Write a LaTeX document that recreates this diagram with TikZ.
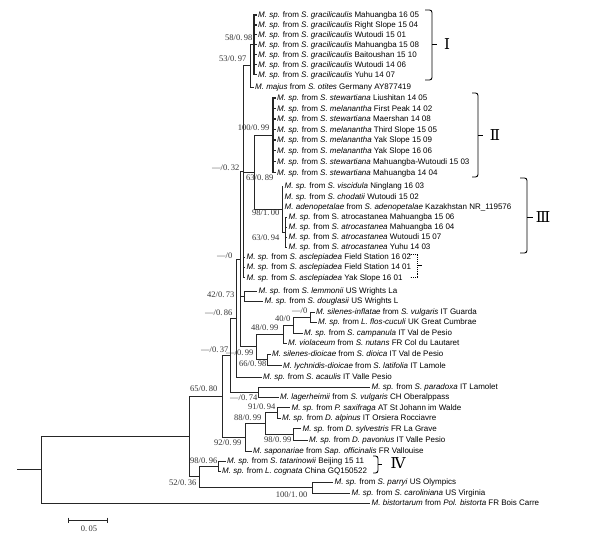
\documentclass[tikz,border=0pt]{standalone}
\usepackage{fontspec}
\setmainfont{Liberation Sans}
\newfontfamily\supfont{Liberation Serif}
\newfontfamily\romfont{DejaVu Serif}
\newcommand\mspfrom{\textit{M. sp.} from }
\begin{document}
\begin{tikzpicture}[x=1pt,y=-1pt,
  tree/.style={draw=black!85, line width=0.8pt},
  treethick/.style={draw=black!85, line width=1.4pt},
  leaf/.style={anchor=west, inner sep=1.5pt, text height=5.7pt, text depth=0pt, font=\fontsize{8}{9}\selectfont},
  supp/.style={anchor=east, inner sep=0.5pt, text height=5.6pt, text depth=0pt, font=\supfont\fontsize{8.5}{9}\selectfont, text=black!80},
  brk/.style={draw=black, line width=0.9pt, rounded corners=2.5pt},
  rom/.style={font=\romfont\fontsize{15}{15}\selectfont, inner sep=0pt}
]
\useasboundingbox (0,0) rectangle (600,545);
% ---------- leaves ----------
\node[leaf] (l1) at (256.5,15) {\mspfrom\textit{S. gracilicaulis} Mahuangba 16 05};
\node[leaf] (l2) at (256.5,25) {\mspfrom\textit{S. gracilicaulis} Right Slope 15 04};
\node[leaf] (l3) at (256.5,34.5) {\mspfrom\textit{S. gracilicaulis} Wutoudi 15 01};
\node[leaf] (l4) at (256.5,44.5) {\mspfrom\textit{S. gracilicaulis} Mahuangba 15 08};
\node[leaf] (l5) at (256.5,54.5) {\mspfrom\textit{S. gracilicaulis} Baitoushan 15 10};
\node[leaf] (l6) at (256.5,64.5) {\mspfrom\textit{S. gracilicaulis} Wutoudi 14 06};
\node[leaf] (l7) at (256.5,74.5) {\mspfrom\textit{S. gracilicaulis} Yuhu 14 07};
\node[leaf] (l8) at (253.5,87) {\textit{M. majus} from \textit{S. otites} Germany AY877419};
\node[leaf] (l9) at (275.5,98) {\mspfrom\textit{S. stewartiana} Liushitan 14 05};
\node[leaf] (l10) at (275.5,108.5) {\mspfrom\textit{S. melanantha} First Peak 14 02};
\node[leaf] (l11) at (275.5,119) {\mspfrom\textit{S. stewartiana} Maershan 14 08};
\node[leaf] (l12) at (275.5,129.5) {\mspfrom\textit{S. melanantha} Third Slope 15 05};
\node[leaf] (l13) at (275.5,140) {\mspfrom\textit{S. melanantha} Yak Slope 15 09};
\node[leaf] (l14) at (275.5,150.5) {\mspfrom\textit{S. melanantha} Yak Slope 16 06};
\node[leaf] (l15) at (275.5,161.5) {\mspfrom\textit{S. stewartiana} Mahuangba-Wutoudi 15 03};
\node[leaf] (l16) at (275.5,172.5) {\mspfrom\textit{S. stewartiana} Mahuangba 14 04};
\node[leaf] (l17) at (283,186) {\mspfrom\textit{S. viscidula} Ninglang 16 03};
\node[leaf] (l18) at (283,196.5) {\mspfrom\textit{S. chodatii} Wutoudi 15 02};
\node[leaf] (l19) at (283,207) {\textit{M. adenopetalae} from \textit{S. adenopetalae} Kazakhstan NR\_119576};
\node[leaf] (l20) at (287,217) {\mspfrom S. atrocastanea Mahuangba 15 06};
\node[leaf] (l21) at (287,227) {\mspfrom\textit{S. atrocastanea} Mahuangba 16 04};
\node[leaf] (l22) at (287,237) {\mspfrom\textit{S. atrocastanea} Wutoudi 15 07};
\node[leaf] (l23) at (287,247) {\mspfrom\textit{S. atrocastanea} Yuhu 14 03};
\node[leaf] (l24) at (245,257) {\mspfrom\textit{S. asclepiadea} Field Station 16 02};
\node[leaf] (l25) at (245,267) {\mspfrom\textit{S. asclepiadea} Field Station 14 01};
\node[leaf] (l26) at (245,277.5) {\mspfrom\textit{S. asclepiadea} Yak Slope 16 01};
\node[leaf] (l27) at (257,291) {\mspfrom\textit{S. lemmonii} US Wrights La};
\node[leaf] (l28) at (263,301) {\mspfrom\textit{S. douglasii} US Wrights L};
\node[leaf] (l29) at (314.5,312) {\textit{M. silenes-inflatae} from \textit{S. vulgaris} IT Guarda};
\node[leaf] (l30) at (316.5,322) {\mspfrom\textit{L. flos-cuculi} UK Great Cumbrae};
\node[leaf] (l31) at (302.5,333) {\mspfrom\textit{S. campanula} IT Val de Pesio};
\node[leaf] (l32) at (286.5,343) {\textit{M. violaceum} from \textit{S. nutans} FR Col du Lautaret};
\node[leaf] (l33) at (270.5,354) {\textit{M. silenes-dioicae} from \textit{S. dioica} IT Val de Pesio};
\node[leaf] (l34) at (281.5,365.5) {\textit{M. lychnidis-dioicae} from \textit{S. latifolia} IT Lamole};
\node[leaf] (l35) at (261.5,377) {\mspfrom\textit{S. acaulis} IT Valle Pesio};
\node[leaf] (l36) at (370,387) {\mspfrom\textit{S. paradoxa} IT Lamolet};
\node[leaf] (l37) at (278.5,397) {\textit{M. lagerheimii} from \textit{S. vulgaris} CH Oberalppass};
\node[leaf] (l38) at (290,407.5) {\mspfrom\textit{P. saxifraga} AT St Johann im Walde};
\node[leaf] (l39) at (280.5,418) {\mspfrom\textit{D. alpinus} IT Orsiera Rocciavre};
\node[leaf] (l40) at (301,428.5) {\mspfrom\textit{D. sylvestris} FR La Grave};
\node[leaf] (l41) at (307.5,440) {\mspfrom\textit{D. pavonius} IT Valle Pesio};
\node[leaf] (l42) at (251.5,451) {\textit{M. saponariae} from \textit{Sap. officinalis} FR Vallouise};
\node[leaf] (l43) at (225.5,461) {\mspfrom\textit{S. tatarinowii} Beijing 15 11};
\node[leaf] (l44) at (220.5,471) {\mspfrom\textit{L. cognata} China GQ150522};
\node[leaf] (l45) at (333,482) {\mspfrom\textit{S. parryi} US Olympics};
\node[leaf] (l46) at (350,493) {\mspfrom\textit{S. caroliniana} US Virginia};
\node[leaf] (l47) at (370,503) {\textit{M. bistortarum} from \textit{Pol. bistorta} FR Bois Carre};
% ---------- internal nodes ----------
\coordinate (G1) at (254,44.75);
\coordinate (G2) at (250,65.875);
\coordinate (IIn) at (273,135.25);
\coordinate (IIIs) at (285,232);
\coordinate (IIIn) at (282,209);
\coordinate (N89) at (254,172.125);
\coordinate (L1) at (243,171.69);
\coordinate (N73) at (244,296);
\coordinate (A) at (310,317);
\coordinate (B) at (293,325);
\coordinate (C) at (283,334);
\coordinate (Dio) at (267,359.75);
\coordinate (D) at (256,346.875);
\coordinate (L2) at (240,259.28);
\coordinate (L3) at (236,318.14);
\coordinate (N74) at (258,392);
\coordinate (L4) at (230,355.07);
\coordinate (F91) at (277,412.75);
\coordinate (G98) at (293,434.25);
\coordinate (E88) at (265,423.5);
\coordinate (P92) at (245,437.25);
\coordinate (L5) at (222,396.16);
\coordinate (IVn) at (218,466);
\coordinate (N100) at (312,487.5);
\coordinate (C52) at (199,476.75);
\coordinate (L6) at (189,436.45);
\coordinate (R) at (41,469.73);
\coordinate (stub) at (17,469.73);
% ---------- edges ----------
\foreach \i in {1,...,7} {\draw[treethick] (G1) |- (l\i.west);}
\draw[tree] (G2) |- (G1);
\draw[tree] (G2) |- (l8.west);
\foreach \i in {9,...,16} {\draw[treethick] (IIn) |- (l\i.west);}
\foreach \i in {17,18,19} {\draw[tree] (IIIn) |- (l\i.west);}
\draw[tree] (IIIn) |- (IIIs);
\foreach \i in {20,...,23} {\draw[tree] (IIIs) |- (l\i.west);}
\draw[tree] (N89) |- (IIn);
\draw[tree] (N89) |- (IIIn);
\draw[tree] (L1) |- (G2);
\draw[tree] (L1) |- (N89);
\foreach \i in {24,25,26} {\draw[tree] (L1) |- (l\i.west);}
\draw[tree] (N73) |- (l27.west);
\draw[tree] (N73) |- (l28.west);
\draw[tree] (A) |- (l29.west);
\draw[tree] (A) |- (l30.west);
\draw[tree] (B) |- (A);
\draw[tree] (B) |- (l31.west);
\draw[tree] (C) |- (B);
\draw[tree] (C) |- (l32.west);
\draw[tree] (Dio) |- (l33.west);
\draw[tree] (Dio) |- (l34.west);
\draw[tree] (D) |- (C);
\draw[tree] (D) |- (Dio);
\draw[tree] (L2) |- (L1);
\draw[tree] (L2) |- (N73);
\draw[tree] (L2) |- (D);
\draw[tree] (L3) |- (L2);
\draw[tree] (L3) |- (l35.west);
\draw[tree] (N74) |- (l36.west);
\draw[tree] (N74) |- (l37.west);
\draw[tree] (L4) |- (L3);
\draw[tree] (L4) |- (N74);
\draw[tree] (F91) |- (l38.west);
\draw[tree] (F91) |- (l39.west);
\draw[tree] (G98) |- (l40.west);
\draw[tree] (G98) |- (l41.west);
\draw[tree] (E88) |- (F91);
\draw[tree] (E88) |- (G98);
\draw[tree] (P92) |- (E88);
\draw[tree] (P92) |- (l42.west);
\draw[tree] (L5) |- (L4);
\draw[tree] (L5) |- (P92);
\draw[tree] (IVn) |- (l43.west);
\draw[tree] (IVn) |- (l44.west);
\draw[tree] (N100) |- (l45.west);
\draw[tree] (N100) |- (l46.west);
\draw[tree] (C52) |- (IVn);
\draw[tree] (C52) |- (N100);
\draw[tree] (L6) |- (L5);
\draw[tree] (L6) |- (C52);
\draw[tree] (R) |- (L6);
\draw[tree] (R) |- (l47.west);
\draw[tree] (stub) -- (R);
% ---------- support values ----------
\node[supp] (s1) at (253,38) {58/0.\,98};
\node[supp] (s2) at (247,59) {53/0.\,97};
\node[supp] (s3) at (270,128) {100/0.\,99};
\node[supp] (s4) at (240,168) {—/0.\,32};
\node[supp] (s5) at (274,178) {63/0.\,89};
\node[supp] (s6) at (280,213) {98/1.\,00};
\node[supp] (s7) at (280,238) {63/0.\,94};
\node[supp] (s8) at (233,256) {—/0};
\node[supp] (s9) at (235,295) {42/0.\,73};
\node[supp] (s10) at (233,313) {—/0.\,86};
\node[supp] (s11) at (308,311) {—/0};
\node[supp] (s12) at (291,319) {40/0};
\node[supp] (s13) at (279,328) {48/0.\,99};
\node[supp] (s14) at (229,350) {—/0.\,37};
\node[supp] (s15) at (254,353) {—/0.\,99};
\node[supp] (s16) at (267,364) {66/0.\,98};
\node[supp] (s17) at (218,389) {65/0.\,80};
\node[supp] (s18) at (258,398) {—/0.\,74};
\node[supp] (s19) at (276,407) {91/0.\,94};
\node[supp] (s20) at (262,418) {88/0.\,99};
\node[supp] (s21) at (292,440) {98/0.\,99};
\node[supp] (s22) at (242,443) {92/0.\,99};
\node[supp] (s23) at (218,461) {98/0.\,96};
\node[supp] (s24) at (197,483) {52/0.\,36};
\node[supp] (s25) at (308,495) {100/1.\,00};
% ---------- brackets ----------
\draw[brk] (425,10) -- (432,10) -- (432,80) -- (425,80);
\draw[brk] (432,44) -- (437,44);
\node[rom] (rI) at (447,44) {Ⅰ};
\draw[brk] (472,93) -- (478,93) -- (478,177) -- (472,177);
\draw[brk] (478,135) -- (483,135);
\node[rom] (rII) at (495,135) {Ⅱ};
\draw[brk] (520,178) -- (527,178) -- (527,253) -- (520,253);
\draw[brk] (527,217) -- (533,217);
\node[rom] (rIII) at (543,217) {Ⅲ};
\draw[brk] (373,456) -- (378,456) -- (378,473) -- (373,473);
\draw[brk] (378,464) -- (382,464);
\node[rom] (rIV) at (398,463) {Ⅳ};
\draw[draw=black, line width=0.9pt, densely dotted] (409,254) -- (417,254) -- (417,277) -- (410,277);
\draw[draw=black, line width=0.9pt] (418,265) -- (422,265);
% ---------- scale bar ----------
\coordinate (sb1) at (68,520);
\coordinate (sb2) at (107,520);
\draw[tree] (sb1) -- (sb2);
\draw[tree] ([yshift=2.5pt]sb1) -- ([yshift=-2.5pt]sb1);
\draw[tree] ([yshift=2.5pt]sb2) -- ([yshift=-2.5pt]sb2);
\node[supp, anchor=center] (sbl) at (89,529) {0.\,05};
\end{tikzpicture}
\end{document}
